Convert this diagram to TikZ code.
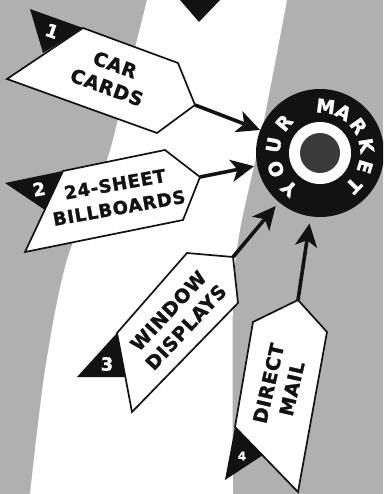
\documentclass[tikz,border=0pt]{standalone}
\usepackage{fontspec}
\setmainfont{DejaVu Sans}
\newfontfamily\heavy{DejaVu Sans}[UprightFont=* Bold,FakeBold=1.5,LetterSpace=4]
\usetikzlibrary{arrows.meta,calc}
\definecolor{Paper}{RGB}{176,176,176}
\definecolor{Ink}{RGB}{18,18,18}
\definecolor{Bull}{RGB}{58,58,58}

\begin{document}
\begin{tikzpicture}[x=1pt,y=-1pt,
 s/.style={draw=Ink,line width=1.7pt,fill=white,line join=miter},
 tab/.style={fill=Ink},
 num/.style={text=white,inner sep=0pt,font=\heavy\fontsize{18}{18}\selectfont},
 w/.style={text=Ink,align=center,inner sep=0pt,font=\heavy\fontsize{19}{24}\selectfont},
 ring/.style={text=white,inner sep=0pt,font=\heavy\fontsize{19}{19}\selectfont},
 a/.style={-{Stealth[length=23pt,width=22pt,inset=6pt]},line width=3.6pt,Ink}]
\useasboundingbox (0,0) rectangle (383,494);
\clip (0,0) rectangle (383,494);
% paper and the white road
\fill[Paper] (0,0) rectangle (383,494);
\fill[white] plot[smooth] coordinates {(147,0) (127,80) (107,160) (67,260) (45,370) (30,494)}
  -- plot[smooth] coordinates {(233,494) (233,300) (240,230) (262,130) (287,0)} -- cycle;
\fill[Ink] (180,0) -- (220,0) -- (199,22) -- cycle;
% sign 1
\path[s] (7,79) -- (83,28) -- (178,63) -- (195,105) -- (157,133) -- cycle;
\fill[tab] (43,53) -- (30,9) -- (83,28) -- cycle;
\coordinate (tip1) at (195,105);
\node[num,rotate=-20] (n1) at (52,31) {1};
\node[w,rotate=-20] (car) at (111,76) {CAR\\CARDS};
% sign 2
\path[s] (25,252) -- (63,171) -- (165,150) -- (200,177) -- (183,220) -- cycle;
\fill[tab] (45,210) -- (5,183) -- (63,171) -- cycle;
\coordinate (tip2) at (200,177);
\node[num,rotate=10] (n2) at (39,189) {2};
\node[w,rotate=10,font=\heavy\fontsize{18}{24}\selectfont] (bill) at (117,196) {24-SHEET\\BILLBOARDS};
% sign 3
\path[s] (132,412) -- (117,333) -- (187,253) -- (233,257) -- (238,303) -- cycle;
\fill[tab] (117,333) -- (77,377) -- (125,377) -- cycle;
\coordinate (tip3) at (233,257);
\node[num] (n3) at (107,364) {3};
\node[w,rotate=47] (win) at (177,319) {WINDOW\\DISPLAYS};
% sign 4
\path[s] (298,492) -- (235,427) -- (253,322) -- (298,300) -- (327,332) -- cycle;
\fill[tab] (235,427) -- (225,480) -- (263,455) -- cycle;
\coordinate (tip4) at (298,300);
\node[num,font=\heavy\fontsize{12}{12}\selectfont] (n4) at (242,456) {4};
\node[w,rotate=77] (mail) at (280,386) {DIRECT\\MAIL};
% the market
\node[circle,fill=Ink,minimum size=128pt,inner sep=0pt] (market) at (320,153) {};
\fill[white] (market.center) circle (31pt);
\fill[Bull] (market.center) circle (20pt);
\foreach \l/\g in {Y/229,O/200,U/170,R/140,M/83,A/60,R/35,K/9,E/-17,T/-44}
  \node[ring,rotate=\g-90] (l\g) at ($(market.center)+(\g:47pt)$) {\l};
\draw[a] (tip1) -- (market);
\draw[a,shorten >=3pt] (tip2) -- (market);
\draw[a,shorten >=5pt] (tip3) -- (market);
\draw[a,shorten >=7pt] (tip4) -- (market);
\end{tikzpicture}
\end{document}
